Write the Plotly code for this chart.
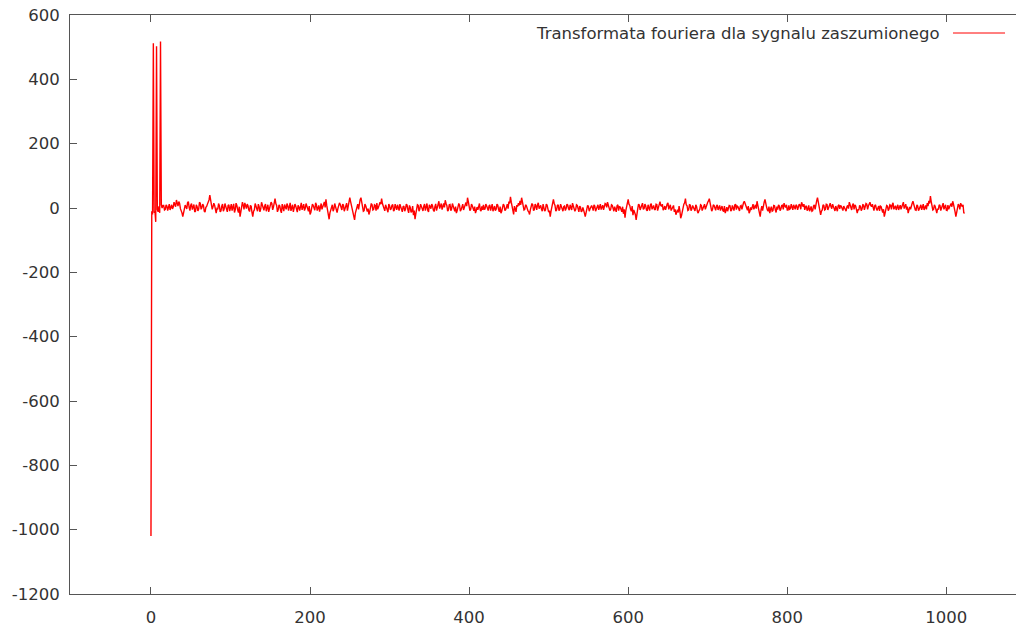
import plotly.graph_objects as go

legend_label = "Transformata fouriera dla sygnalu zaszumionego"

# head of the spectrum (unit step)
x_head = list(range(0, 16))
y_head = [-1020, -10, -20, 512, -15, -10, -43, 503, -5, -12, 5, -15, 518, 10, 0, 8]

# even samples x = 16, 18, ..., 1022
x_even = list(range(16, 1024, 2))
y_even = [
    8, -4, 6, 2, -6, 10, 3, 12, 25, 6, 14, -8, -27, -6, 4, 16, 2, 9, -5, 11, -10, 4, -3, 15, 1,
    8, -13, 5, 18, 40, 14, 4, 9, -16, -4, 7, -9, 12, -3, 6, -12, 10, 2, -8, 13, -5, 8, -14, -27, 3,
    9, 16, -2, 7, -11, 5, -27, -6, 8, -10, 4, -3, 10, -7, 12, 1, -12, 6, 14, 3, 29, 8, -5, 6, -15,
    2, 11, -4, 7, 5, -9, 10, -2, 6, -13, 3, 9, -6, 12, -1, 5, -10, -20, -4, 8, -7, 10, 2, -11, 14,
    6, 19, 27, -12, -35, -8, 10, -3, 7, -14, 4, 11, -6, 9, -2, 15, 4, 32, 10, -12, -37, -5, 12, 18, 32,
    5, -8, 7, -11, -20, 3, 10, -4, 8, 15, 2, 18, 29, 6, -9, 4, -13, 7, -2, 11, -6, 3, 10, -8, 5,
    -12, 6, -4, 9, -15, 2, -10, -22, -35, -6, 8, -3, 5, -9, 12, 4, -7, 10, -2, 7, -11, 13, 3, 21, 6,
    -5, 14, 24, 8, -6, 11, -3, 6, -10, -16, 2, 9, -5, 12, 4, 17, 32, 10, -4, 7, -9, -16, 3, 8, -6,
    5, 10, -3, 7, -8, 10, 2, -10, 6, -4, 9, -12, -16, 1, 8, -5, 12, 20, 35, 4, -20, -3, 9, 15, 22,
    32, 12, -4, 7, -9, -20, 2, 10, -5, 6, 10, -2, 8, -10, 4, -6, 9, -13, -27, 5, 27, 8, -6, 10, -4,
    3, -10, 6, -2, 9, -7, 4, 15, 2, -5, 8, -12, 3, -9, -14, -27, -6, 5, -3, 8, -8, 6, -2, 10, 4,
    -5, 9, 2, 12, 18, 6, -4, 8, -10, -5, 7, -8, 3, -12, -18, -30, 5, 27, 8, -10, -22, -12, -37, -3, 9,
    4, 15, -2, 7, -9, 3, 10, -4, 8, -6, 11, 2, 20, 5, -7, 6, 9, 16, 3, -8, 4, -12, -21, -5, 6,
    -32, -10, 12, 29, 7, -6, 9, -3, 3, -9, 5, -16, -4, 8, -2, 12, 5, 18, 29, 6, -5, 8, -7, 10, 2,
    -8, 6, -11, -16, 3, -4, 7, -6, 0, 9, -5, 4, -9, 8, 12, 21, 5, -7, -16, 2, 8, -4, 10, 21, -8,
    -27, 6, 14, 27, 3, -10, -16, 4, -8, 7, -14, -5, 6, -3, 9, 15, 2, -6, 8, -2, 5, 10, -4, 7, 1,
    9, 18, 4, -6, 7, -3, -10, 5, -8, 10, 14, 32, 2, -21, -6, 8, -4, 11, 3, 15, -2, 6, -9, -5, 7,
    -3, 5, -8, 2, -10, 8, 18, 4, 9, -4, 6, -16, -7, 5, -3, 9, 2, 12, 6, 18, 4, -6, 7, -2, 0,
    -9, 4, -14, -27, -5, 6, -3, 8, 10, -4, 7, 2, -6, 9, 5, 18, 7, -5, -16, 3, 10, 21, 4, -7, 6,
    -3, 10, 2, -6, 8, 15, 22, 37, 9, -4, 5, -16, -5, 8, -2, 15, 4, -7, 9, 3, 14, 21, -10, -27, 2,
    8, 15, 4, -16,
]

# odd samples x = 17, 19, ..., 1023
x_odd = list(range(17, 1024, 2))
y_odd = [
    -6, 10, -8, 12, 2, -3, 18, 4, 10, 20, -2, -15, -12, 9, -3, 20, -8, 14, 3, -12, 10, -9, 18, -4, 12,
    -10, 2, 12, 25, 22, -4, 15, -8, -2, 14, -12, 6, -10, 14, -6, 8, -10, 12, 4, -14, 15, -6, 4, -12, 18,
    -4, 4, 12, -6, 8, -14, -10, 14, -4, 12, -12, 18, -2, 6, -10, 10, -4, 18, -6, 12, 14, -12, 10, -8, 12,
    -10, -2, 14, -8, 16, 4, -12, 12, -4, 8, -8, 16, 4, -8, 14, -6, 6, -14, 12, -2, 16, -8, 8, 4, -4,
    12, 2, 8, -22, -15, 4, -10, 14, -6, -2, 16, -4, 12, -10, 6, -8, 18, 20, -4, -20, -16, 8, -4, 26, 14,
    -10, 12, -4, -2, -12, 14, -6, 10, -8, -4, 10, 12, 14, -6, 10, -8, 12, -6, 8, -10, 12, -6, -2, 12, -4,
    4, -10, 12, -6, 8, -14, 6, -8, -18, 10, -10, 12, -4, 6, -8, 14, -12, 6, 12, -6, 4, -8, 12, -2, 14,
    6, 2, 14, -10, 10, -8, 14, -4, 4, -8, 14, -10, 8, -6, 14, 6, 20, -8, 12, -4, 4, -8, -6, 14, -10,
    -6, -4, 12, -6, 6, -8, 12, 4, -8, 12, -4, 4, -10, 12, -8, 6, -2, 14, 18, -10, 6, -12, 4, 8, 10,
    20, -6, 10, -4, -12, -6, 14, -8, 12, -6, 16, 4, -4, 12, -10, 12, -4, -8, -10, 12, 14, -10, 8, -8, 12,
    -6, 4, -8, 12, -2, 10, -6, 8, -10, 10, -4, 6, -12, 2, -16, -10, 8, -10, 6, 2, 10, -10, 6, -6, 12,
    4, -6, 14, 2, 10, -8, 10, 2, 4, -12, 10, 4, -6, 4, -4, -8, 16, 12, -4, 6, -6, -20, -10, 12, -6,
    10, -4, 12, -6, 10, -8, 14, 6, -4, 12, -8, 14, 8, 12, -2, -6, 12, -4, 10, -4, 8, -4, -10, -14, -8,
    -24, 6, 16, 10, -8, 10, -8, 8, -6, 10, -10, -8, 10, -8, 8, -4, 12, 22, 16, -10, 10, -4, 6, -6, 8,
    4, -8, 6, -8, -10, 8, -10, 8, -8, 12, 6, -6, 6, -4, 16, 12, -4, 6, -10, -6, 12, 6, -2, 8, -14,
    -6, -8, 18, 10, -6, 4, -4, -10, 8, -6, 4, 10, -8, 8, -4, 6, 10, -6, -4, 12, -6, 2, 10, -6, 12,
    -4, 8, 12, 4, -8, 8, -4, -10, 6, -4, 22, 16, -10, -10, 10, -6, 12, -6, 8, 4, 12, -4, 6, -10, 10,
    8, -4, 6, -6, 4, -2, 10, -6, 14, 10, -8, -4, 8, -8, 10, -6, 14, -4, 10, 8, 12, -8, 10, -8, 6,
    6, -6, -4, -16, 8, -8, 10, -4, 16, 6, -6, 10, 4, -4, 12, -2, 12, 4, -8, -4, 14, 8, -6, 10, -8,
    8, -6, 12, 4, -4, 6, 14, 20, -6, 10, -6, -2, 10, -8, 8, -4, 10, -8, -4, 10, 4, 12, -12, -8, 12,
    -4, 8, 10, -14,
]

# merge into one ordered series
pairs = sorted(zip(x_head + x_even + x_odd, y_head + y_even + y_odd))
x_vals = [p[0] for p in pairs]
y_vals = [p[1] for p in pairs]

x_ticks = [0, 200, 400, 600, 800, 1000]
y_ticks = [-1200, -1000, -800, -600, -400, -200, 0, 200, 400, 600]

axis_color = "#555555"
text_color = "#333333"
font_family = "DejaVu Sans"
font_size = 16.5

fig = go.Figure()
fig.add_trace(go.Scatter(
    x=x_vals, y=y_vals, mode="lines",
    line=dict(color="#ff0000", width=1.4),
    name=legend_label, showlegend=False,
))

fig.update_layout(
    width=1016, height=628,
    margin=dict(l=70, r=0, t=15, b=34),
    paper_bgcolor="white", plot_bgcolor="white",
    font=dict(family=font_family, size=font_size, color=text_color),
    xaxis=dict(
        range=[-101.8, 1087.6], tickvals=x_ticks, ticktext=[str(v) for v in x_ticks],
        showgrid=False, zeroline=False, showline=True, linecolor=axis_color, linewidth=1,
        mirror="ticks", ticks="inside", ticklen=7, tickcolor=axis_color, tickwidth=1,
        ticklabelstandoff=8,
        tickfont=dict(family=font_family, size=font_size, color=text_color),
    ),
    yaxis=dict(
        range=[-1200, 600], tickvals=y_ticks, ticktext=[str(v) for v in y_ticks],
        showgrid=False, zeroline=False, showline=True, linecolor=axis_color, linewidth=1,
        mirror=False, ticks="inside", ticklen=7, tickcolor=axis_color, tickwidth=1,
        ticklabelstandoff=6,
        tickfont=dict(family=font_family, size=font_size, color=text_color),
    ),
)

# legend drawn gnuplot-style: text then line sample
fig.add_annotation(
    text=legend_label, xref="paper", yref="paper", x=0.9218, y=0.9689,
    xanchor="right", yanchor="middle", showarrow=False,
    font=dict(family=font_family, size=font_size, color=text_color),
)
fig.add_shape(
    type="line", xref="paper", yref="paper", x0=0.9334, x1=0.9884, y0=0.9689, y1=0.9689,
    line=dict(color="#ff0000", width=1),
)

fig.write_html("out.html")
